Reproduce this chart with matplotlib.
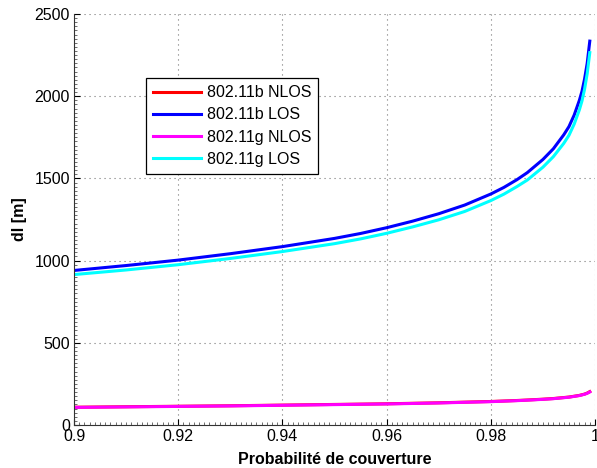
import numpy as np
import matplotlib
matplotlib.use('Agg')
import matplotlib.pyplot as plt
from matplotlib.ticker import MultipleLocator

plt.rcParams['font.family'] = ['Liberation Sans', 'DejaVu Sans']

# coverage probability (x) and cell radius dl [m]
prob = [0.900, 0.910, 0.920, 0.930, 0.940, 0.950, 0.955, 0.960, 0.965,
        0.970, 0.975, 0.980, 0.9825, 0.985, 0.987, 0.990, 0.992, 0.994,
        0.995, 0.996, 0.997, 0.9975, 0.998, 0.9985, 0.999]

b_nlos = [108, 111, 114, 117, 121, 125, 127, 129, 132,
          135, 139, 143, 146, 149, 152, 157, 161, 167,
          170, 175, 180, 184, 188, 194, 203]
b_los = [940, 970, 1003, 1042, 1085, 1135, 1165, 1200, 1240,
         1285, 1338, 1405, 1445, 1492, 1535, 1615, 1680, 1765,
         1815, 1885, 1975, 2030, 2105, 2200, 2335]
g_nlos = [107, 110, 113, 116, 120, 124, 126, 128, 131,
          134, 138, 142, 145, 148, 151, 156, 160, 166,
          169, 174, 179, 183, 187, 193, 201]
g_los = [915, 943, 975, 1013, 1055, 1103, 1132, 1166, 1205,
         1248, 1299, 1365, 1404, 1450, 1490, 1568, 1632, 1713,
         1762, 1830, 1917, 1971, 2043, 2137, 2265]

labels = ['802.11b NLOS', '802.11b LOS', '802.11g NLOS', '802.11g LOS']
colors = ['#ff0000', '#0000ff', '#ff00ff', '#00ffff']

fig = plt.figure(figsize=(5.97, 4.68), dpi=100)
ax = fig.add_axes([74 / 597, 43 / 468, 521 / 597, 411 / 468])

for y, lab, c in zip([b_nlos, b_los, g_nlos, g_los], labels, colors):
    ax.plot(prob, y, color=c, lw=2.2, label=lab, solid_joinstyle='round')

ax.set_xlim(0.9, 1.0)
ax.set_ylim(0, 2500)
ax.set_xticks([0.9, 0.92, 0.94, 0.96, 0.98, 1.0])
ax.set_xticklabels(['0.9', '0.92', '0.94', '0.96', '0.98', '1'])
ax.set_yticks([0, 500, 1000, 1500, 2000, 2500])
ax.xaxis.set_minor_locator(MultipleLocator(0.001))
ax.yaxis.set_minor_locator(MultipleLocator(25))
ax.tick_params(which='major', direction='in', length=4, labelsize=11.5, pad=3)
ax.tick_params(which='minor', direction='in', length=2, color='#555555')

ax.grid(True, which='major', linestyle=(0, (1, 3.5)), color='#777777', linewidth=0.8)
for s in ['top', 'right']:
    ax.spines[s].set_visible(False)
ax.spines['left'].set_color('#333333')
ax.spines['bottom'].set_color('#333333')

ax.set_xlabel('Probabilité de couverture', fontsize=11.5, fontweight='bold', labelpad=6)
ax.set_ylabel('dl [m]', fontsize=11.5, fontweight='bold', labelpad=5)

leg = ax.legend(loc='upper left', bbox_to_anchor=(0.138, 0.844), borderaxespad=0,
                fancybox=False, edgecolor='black', framealpha=1, fontsize=11.5,
                handlelength=3.0, handletextpad=0.35, labelspacing=0.45,
                borderpad=0.45)
leg.get_frame().set_linewidth(0.9)

fig.savefig('out.png', dpi=100)
